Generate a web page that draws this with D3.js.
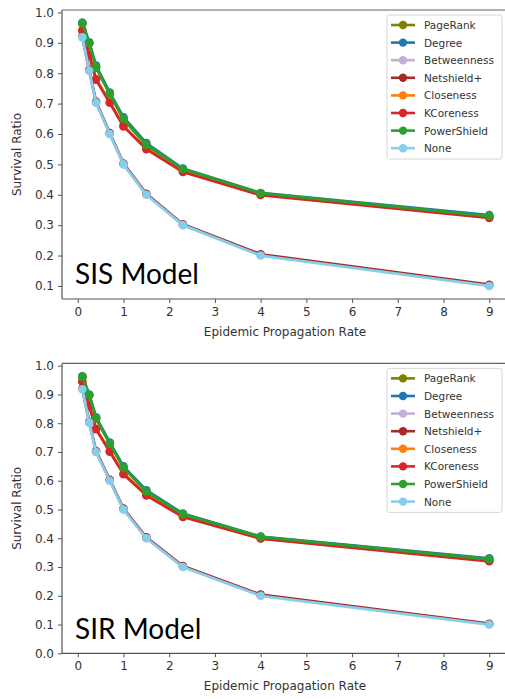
<!DOCTYPE html>
<meta charset="utf-8">
<style>
  body { margin: 0; background: #fff; }
  text { font-family: "DejaVu Sans", sans-serif; fill: #333; }
  .tick text { font-size: 12px; }
  .axis path, .axis line { stroke: #555; }
  .model { font-family: Lato, sans-serif; font-size: 28px; fill: #000; }
  .leg text { font-size: 10.5px; }
</style>
<svg width="505" height="699"></svg>
<script src="https://d3js.org/d3.v7.min.js"></script>
<script>

  var rates = [0.1, 0.25, 0.4, 0.7, 1, 1.5, 2.3, 4, 9];
  var names = ["PageRank", "Degree", "Betweenness", "Netshield+", "Closeness", "KCoreness", "PowerShield", "None"];
  var colors = ["#808000", "#1f77b4", "#c5b0d5", "#a52a2a", "#ff7f0e", "#d62728", "#2ca02c", "#87ceeb"];
  var xTicks = [0, 1, 2, 3, 4, 5, 6, 7, 8, 9];

  // SIS model
  var sisPageRank    = [0.963, 0.898, 0.818, 0.732, 0.648, 0.563, 0.484, 0.404, 0.329];
  var sisDegree      = [0.966, 0.902, 0.825, 0.736, 0.655, 0.570, 0.486, 0.406, 0.333];
  var sisBetweenness = [0.919, 0.809, 0.704, 0.601, 0.501, 0.401, 0.301, 0.202, 0.101];
  var sisNetshield   = [0.921, 0.811, 0.706, 0.603, 0.503, 0.403, 0.303, 0.204, 0.104];
  var sisCloseness   = [0.942, 0.862, 0.781, 0.705, 0.627, 0.552, 0.477, 0.401, 0.326];
  var sisKCoreness   = [0.940, 0.860, 0.779, 0.703, 0.625, 0.550, 0.475, 0.399, 0.324];
  var sisPowerShield = [0.966, 0.900, 0.820, 0.733, 0.650, 0.565, 0.485, 0.405, 0.330];
  var sisNone        = [0.918, 0.808, 0.703, 0.600, 0.500, 0.400, 0.300, 0.200, 0.100];

  // SIR model
  var sirPageRank    = [0.960, 0.897, 0.816, 0.729, 0.645, 0.562, 0.483, 0.404, 0.327];
  var sirDegree      = [0.963, 0.900, 0.821, 0.733, 0.650, 0.567, 0.486, 0.406, 0.330];
  var sirBetweenness = [0.919, 0.803, 0.701, 0.601, 0.501, 0.401, 0.301, 0.202, 0.101];
  var sirNetshield   = [0.921, 0.805, 0.703, 0.603, 0.503, 0.403, 0.303, 0.204, 0.103];
  var sirCloseness   = [0.946, 0.862, 0.781, 0.703, 0.625, 0.551, 0.476, 0.400, 0.322];
  var sirKCoreness   = [0.944, 0.860, 0.779, 0.701, 0.623, 0.549, 0.474, 0.399, 0.320];
  var sirPowerShield = [0.962, 0.898, 0.818, 0.730, 0.646, 0.563, 0.484, 0.405, 0.327];
  var sirNone        = [0.918, 0.802, 0.700, 0.600, 0.500, 0.400, 0.300, 0.200, 0.100];

  var sisSeries = [sisPageRank, sisDegree, sisBetweenness, sisNetshield, sisCloseness, sisKCoreness, sisPowerShield, sisNone];
  var sirSeries = [sirPageRank, sirDegree, sirBetweenness, sirNetshield, sirCloseness, sirKCoreness, sirPowerShield, sirNone];

  var svg = d3.select("svg");

  function panel(series, title, top, bottom, yDomain, yTicks) {
    var x = d3.scaleLinear().domain([-0.345, 9.445]).range([62, 509.6]);
    var y = d3.scaleLinear().domain(yDomain).range([bottom, top]);
    var g = svg.append("g");

    // spines
    g.append("line").attr("x1", 62).attr("x2", 505).attr("y1", top).attr("y2", top)
      .attr("stroke", "#666").attr("stroke-width", 1.2);

    var xa = g.append("g").attr("class", "axis")
      .attr("transform", "translate(0," + bottom + ")")
      .call(d3.axisBottom(x).tickValues(xTicks).tickSize(4).tickPadding(4).tickFormat(d3.format("d")));
    xa.select(".domain").attr("d", "M62,0H505").attr("stroke-width", 1.2);

    var ya = g.append("g").attr("class", "axis")
      .attr("transform", "translate(62,0)")
      .call(d3.axisLeft(y).tickValues(yTicks).tickSize(4).tickPadding(4).tickFormat(d3.format(".1f")));
    ya.select(".domain").attr("d", "M0," + top + "V" + bottom).attr("stroke-width", 1.2);

    g.append("text").attr("x", 285).attr("y", bottom + 37)
      .attr("text-anchor", "middle").style("font-size", "12px").text("Epidemic Propagation Rate");
    g.append("text").attr("transform", "translate(21," + ((top + bottom) / 2) + ") rotate(-90)")
      .attr("text-anchor", "middle").style("font-size", "12px").text("Survival Ratio");

    var line = d3.line().x(function (d, i) { return x(rates[i]); }).y(function (d) { return y(d); });

    series.forEach(function (s, k) {
      g.append("path").datum(s).attr("d", line)
        .attr("fill", "none").attr("stroke", colors[k]).attr("stroke-width", 2.8);
      g.selectAll(null).data(s).enter().append("circle")
        .attr("cx", function (d, i) { return x(rates[i]); })
        .attr("cy", function (d) { return y(d); })
        .attr("r", 4.3).attr("fill", colors[k]);
    });

    g.append("text").attr("class", "model").attr("x", 75).attr("y", y(yTicks[0]) + (title === "SIS Model" ? -2 : -14)).text(title);

    // legend
    var leg = g.append("g").attr("class", "leg");
    leg.append("rect").attr("x", 387).attr("y", top + 5).attr("width", 115).attr("height", 144)
      .attr("rx", 2.5).attr("fill", "#fff").attr("stroke", "#ccc").attr("stroke-width", 0.8);
    names.forEach(function (n, k) {
      var ly = top + 15 + k * 17.6;
      leg.append("line").attr("x1", 391).attr("x2", 415).attr("y1", ly).attr("y2", ly)
        .attr("stroke", colors[k]).attr("stroke-width", 2.6);
      leg.append("circle").attr("cx", 403).attr("cy", ly).attr("r", 4.2).attr("fill", colors[k]);
      leg.append("text").attr("x", 424).attr("y", ly + 4).text(n);
    });
  }

  panel(sisSeries, "SIS Model", 10, 299, [0.057, 1.008], [0.1, 0.2, 0.3, 0.4, 0.5, 0.6, 0.7, 0.8, 0.9, 1.0]);
  panel(sirSeries, "SIR Model", 363.4, 653.3, [0, 1.008], [0.0, 0.1, 0.2, 0.3, 0.4, 0.5, 0.6, 0.7, 0.8, 0.9, 1.0]);

</script>
